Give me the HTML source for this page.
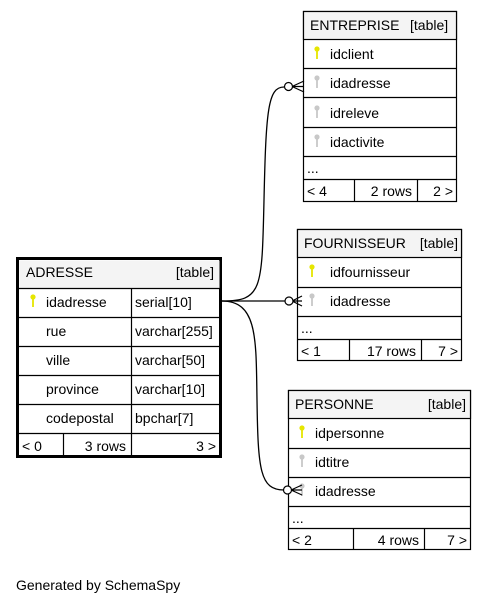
<!DOCTYPE html>
<html><head><meta charset="utf-8"><style>
html,body{margin:0;padding:0;background:#fff;}
svg{display:block;}
text{font-family:"Liberation Sans",Arial,sans-serif;font-size:14px;fill:#000;}
</style></head><body>
<svg width="487" height="604" viewBox="0 0 487 604" xmlns="http://www.w3.org/2000/svg">
<defs>
<g id="kp"><circle cx="0" cy="-3" r="2.6" fill="#e6e600"/><rect x="-0.9" y="-1" width="1.8" height="8" fill="#e6e600"/></g>
<g id="kf"><circle cx="0" cy="-3" r="2.6" fill="#c8c8c8"/><rect x="-0.9" y="-1" width="1.8" height="8" fill="#c8c8c8"/></g>
</defs>

<!-- edges -->
<g fill="none" stroke="#000" stroke-width="1.3">
<path d="M222,301 C262,301 262,290 264,200 C266,110 268,87 284,87"/>
<path d="M222,301 L285,301"/>
<path d="M222,301 C258,301 256,340 257,400 C258,470 260,490 284,490"/>
</g>

<!-- ENTREPRISE -->
<g stroke="#000" stroke-width="1.2">
<rect x="303.5" y="11.5" width="153" height="190" fill="#fff"/>
<rect x="303.5" y="11.5" width="153" height="28" fill="#f4f4f4"/>
<line x1="303" y1="68.5" x2="457" y2="68.5"/>
<line x1="303" y1="97.5" x2="457" y2="97.5"/>
<line x1="303" y1="127.5" x2="457" y2="127.5"/>
<line x1="303" y1="156.5" x2="457" y2="156.5"/>
<line x1="303" y1="179.5" x2="457" y2="179.5"/>
<line x1="354.5" y1="179" x2="354.5" y2="202"/>
<line x1="417.5" y1="179" x2="417.5" y2="202"/>
</g>
<text x="310" y="30">ENTREPRISE</text><text x="410" y="30">[table]</text>
<use href="#kp" x="317" y="52"/><text x="330" y="59">idclient</text>
<use href="#kf" x="317" y="81"/><text x="330" y="88">idadresse</text>
<use href="#kf" x="317" y="111"/><text x="330" y="118">idreleve</text>
<use href="#kf" x="317" y="140"/><text x="330" y="147">idactivite</text>
<text x="307" y="173">...</text>
<text x="307" y="196">&lt; 4</text><text x="412" y="196" text-anchor="end">2 rows</text><text x="453" y="196" text-anchor="end">2 &gt;</text>

<!-- FOURNISSEUR -->
<g stroke="#000" stroke-width="1.2">
<rect x="297.5" y="229.5" width="164" height="131" fill="#fff"/>
<rect x="297.5" y="229.5" width="164" height="28" fill="#f4f4f4"/>
<line x1="297" y1="287.5" x2="462" y2="287.5"/>
<line x1="297" y1="316.5" x2="462" y2="316.5"/>
<line x1="297" y1="339.5" x2="462" y2="339.5"/>
<line x1="349.5" y1="339" x2="349.5" y2="361"/>
<line x1="421.5" y1="339" x2="421.5" y2="361"/>
</g>
<text x="304" y="248">FOURNISSEUR</text><text x="458" y="248" text-anchor="end">[table]</text>
<use href="#kp" x="312" y="270"/><text x="330" y="277">idfournisseur</text>
<use href="#kf" x="312" y="299"/><text x="330" y="306">idadresse</text>
<text x="301" y="333">...</text>
<text x="301" y="356">&lt; 1</text><text x="416" y="356" text-anchor="end">17 rows</text><text x="458" y="356" text-anchor="end">7 &gt;</text>

<!-- PERSONNE -->
<g stroke="#000" stroke-width="1.2">
<rect x="288.5" y="390.5" width="182" height="159" fill="#fff"/>
<rect x="288.5" y="390.5" width="182" height="28" fill="#f4f4f4"/>
<line x1="288" y1="448.5" x2="471" y2="448.5"/>
<line x1="288" y1="477.5" x2="471" y2="477.5"/>
<line x1="288" y1="506.5" x2="471" y2="506.5"/>
<line x1="288" y1="528.5" x2="471" y2="528.5"/>
<line x1="353.5" y1="528" x2="353.5" y2="550"/>
<line x1="424.5" y1="528" x2="424.5" y2="550"/>
</g>
<text x="295" y="409">PERSONNE</text><text x="466" y="409" text-anchor="end">[table]</text>
<use href="#kp" x="302" y="431"/><text x="315" y="438">idpersonne</text>
<use href="#kf" x="302" y="460"/><text x="315" y="467">idtitre</text>
<use href="#kf" x="302" y="489"/><text x="315" y="496">idadresse</text>
<text x="292" y="523">...</text>
<text x="292" y="545">&lt; 2</text><text x="419" y="545" text-anchor="end">4 rows</text><text x="467" y="545" text-anchor="end">7 &gt;</text>

<!-- ADRESSE -->
<rect x="17.5" y="258.5" width="203" height="198" fill="#fff" stroke="#000" stroke-width="3"/>
<g stroke="#000" stroke-width="1.2">
<rect x="19.5" y="260.5" width="200" height="28" fill="#f4f4f4" stroke="none"/>
<line x1="19" y1="288.5" x2="220" y2="288.5"/>
<line x1="19" y1="317.5" x2="220" y2="317.5"/>
<line x1="19" y1="346.5" x2="220" y2="346.5"/>
<line x1="19" y1="375.5" x2="220" y2="375.5"/>
<line x1="19" y1="404.5" x2="220" y2="404.5"/>
<line x1="19" y1="433.5" x2="220" y2="433.5"/>
<line x1="131.5" y1="288" x2="131.5" y2="456"/>
<line x1="63.5" y1="433" x2="63.5" y2="456"/>
</g>
<text x="26" y="277">ADRESSE</text><text x="214" y="277" text-anchor="end">[table]</text>
<use href="#kp" x="33" y="300"/><text x="46" y="307">idadresse</text><text x="135" y="307">serial[10]</text>
<text x="46" y="336">rue</text><text x="135" y="336">varchar[255]</text>
<text x="46" y="365">ville</text><text x="135" y="365">varchar[50]</text>
<text x="46" y="394">province</text><text x="135" y="394">varchar[10]</text>
<text x="46" y="423">codepostal</text><text x="135" y="423">bpchar[7]</text>
<text x="22" y="451">&lt; 0</text><text x="126" y="451" text-anchor="end">3 rows</text><text x="216" y="451" text-anchor="end">3 &gt;</text>

<!-- edge ends on top -->
<g fill="none" stroke="#000" stroke-width="1.2">
<path d="M292,86.5 L304,81 M292,86.5 L304,86.5 M292,86.5 L304,92"/>
<path d="M292,301 L302,296 M292,301 L302,301 M292,301 L302,306"/>
<path d="M291,490 L302,485 M291,490 L302,490 M291,490 L302,495"/>
</g>
<g fill="#fff" stroke="#000" stroke-width="1.2">
<circle cx="288.5" cy="86.5" r="4"/>
<circle cx="289" cy="301" r="4"/>
<circle cx="287.5" cy="490" r="4"/>
</g>

<text x="16" y="590">Generated by SchemaSpy</text>
</svg>
</body></html>
